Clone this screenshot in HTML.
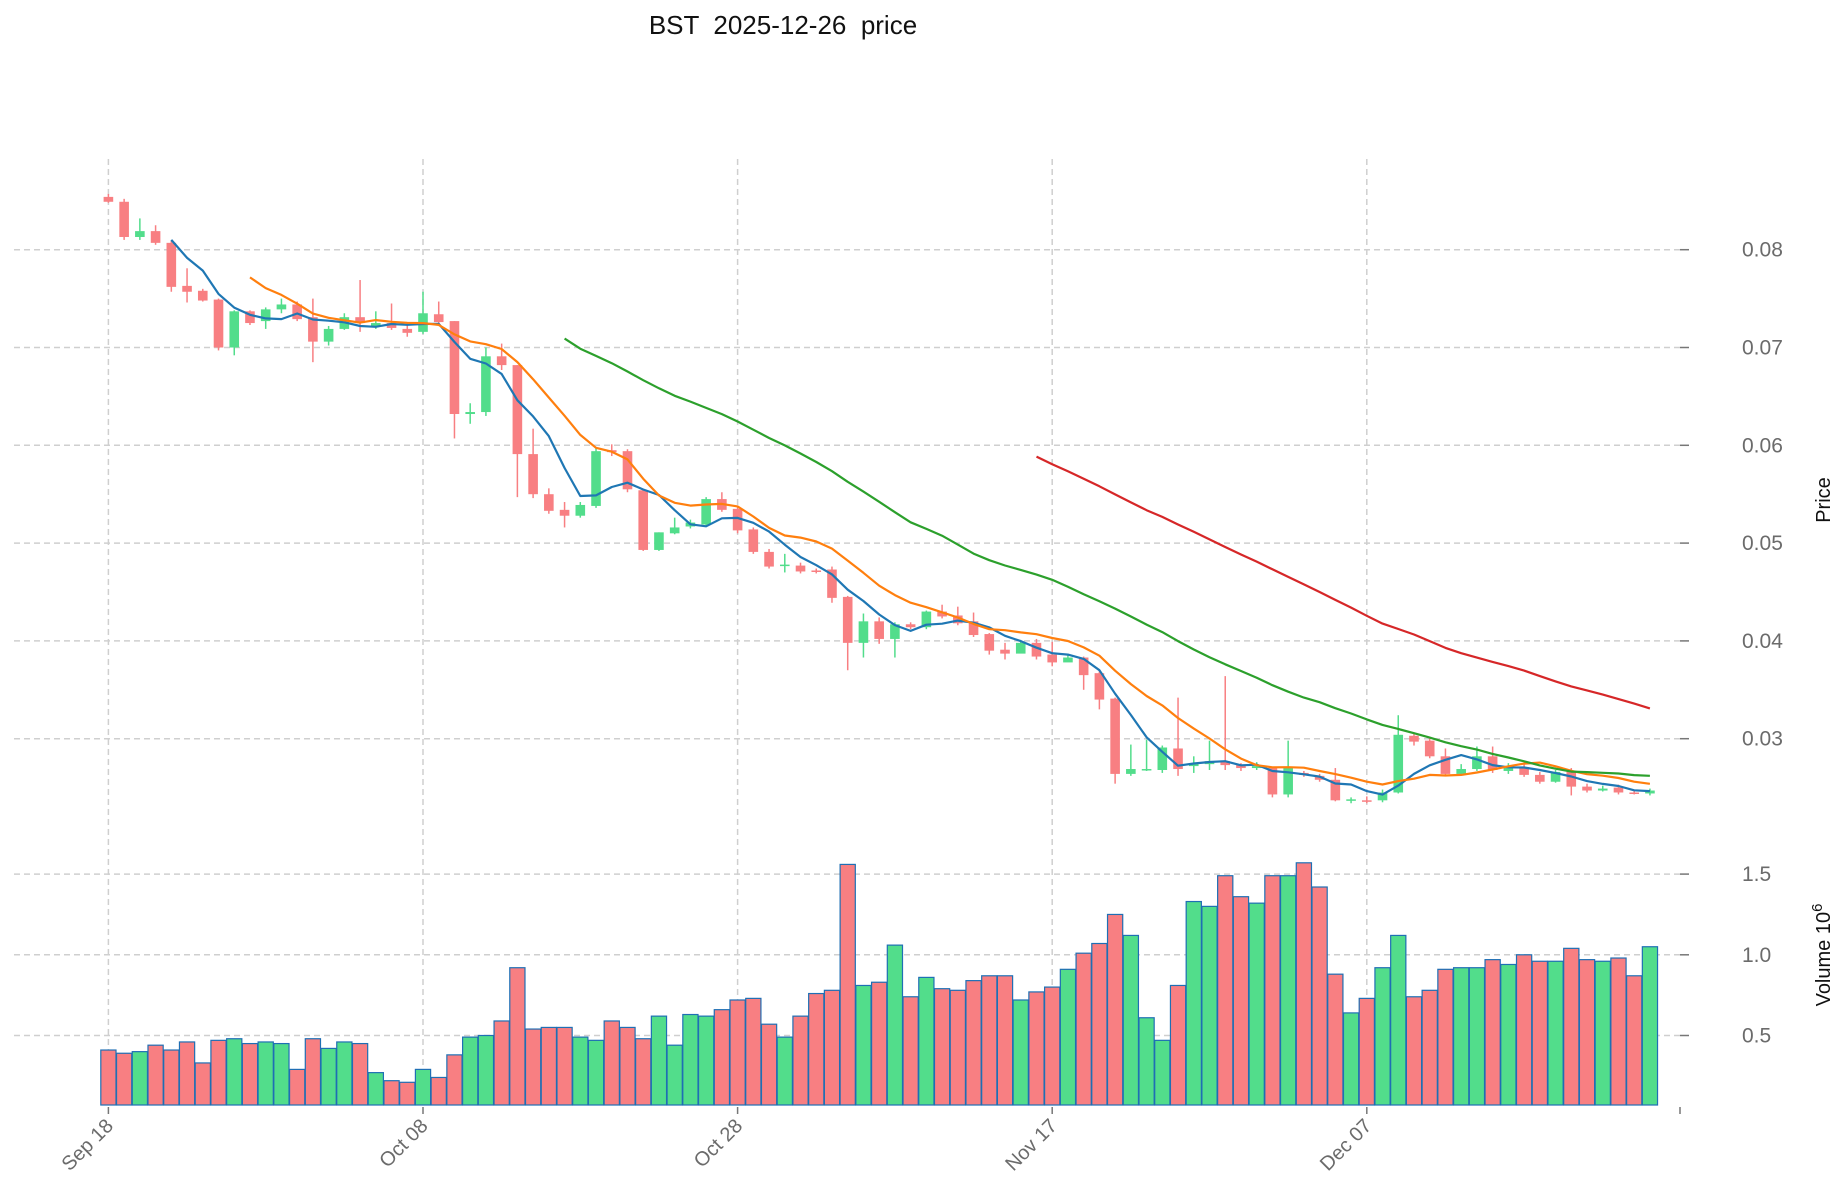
<!DOCTYPE html>
<html><head><meta charset="utf-8">
<style>
body{margin:0;background:#fff;}
svg{display:block;font-family:"Liberation Sans","DejaVu Sans",sans-serif;}
</style></head>
<body>
<svg id="chart" width="1847" height="1202" viewBox="0 0 1847 1202" xmlns="http://www.w3.org/2000/svg">
<rect width="1847" height="1202" fill="#fff"/>
<text x="783" y="34" font-size="26" text-anchor="middle" fill="#111" xml:space="preserve">BST  2025-12-26  price</text>
<g id="grid"></g>
<g id="vol"></g>
<g id="candles"></g>
<g id="mas"></g>
<g id="axes"></g>
<text transform="translate(1830,500) rotate(-90)" font-size="20" text-anchor="middle" fill="#111">Price</text>
<text transform="translate(1830,955) rotate(-90)" font-size="20" text-anchor="middle" fill="#111">Volume  10<tspan dy="-8" font-size="15">6</tspan></text>
</svg>
<script>
const dateLabels = ["Sep 18","Oct 08","Oct 28","Nov 17","Dec 07"];
const dateLabelIndex = [0,20,40,60,80];
const priceTicks = [0.03,0.04,0.05,0.06,0.07,0.08];
const volumeTicks = [0.5,1.0,1.5];
const opens = [.0854,.0849,.0813,.0819,.0807,.0763,.0758,.0749,.0700,.0737,.0727,.0739,.0744,.0731,.0706,.0719,.0731,.0722,.0725,.0719,.0716,.0734,.0727,.0632,.0634,.0691,.0682,.0591,.0550,.0534,.0528,.0538,.0595,.0594,.0554,.0493,.0510,.0517,.0519,.0545,.0535,.0514,.0491,.0477,.0477,.0472,.0473,.0445,.0398,.0420,.0402,.0417,.0414,.0430,.0426,.0420,.0407,.0391,.0387,.0398,.0386,.0378,.0383,.0367,.0341,.0264,.0268,.0268,.0290,.0272,.0274,.0277,.0273,.0270,.0270,.0243,.0265,.0262,.0258,.0237,.0237,.0237,.0245,.0303,.0298,.0282,.0264,.0269,.0282,.0267,.0271,.0263,.0256,.0267,.0251,.0247,.0250,.0245,.0244];
const closes = [.0849,.0813,.0819,.0807,.0762,.0757,.0748,.0700,.0737,.0725,.0739,.0744,.0729,.0706,.0719,.0731,.0725,.0725,.0720,.0715,.0735,.0726,.0632,.0634,.0691,.0682,.0591,.0550,.0533,.0528,.0539,.0594,.0593,.0555,.0493,.0511,.0516,.0521,.0545,.0534,.0513,.0491,.0476,.0478,.0471,.0471,.0444,.0398,.0420,.0402,.0417,.0414,.0430,.0425,.0418,.0406,.0390,.0387,.0398,.0384,.0378,.0383,.0365,.0340,.0264,.0269,.0269,.0291,.0269,.0275,.0277,.0273,.0270,.0272,.0243,.0270,.0263,.0258,.0237,.0238,.0236,.0245,.0304,.0297,.0282,.0264,.0269,.0282,.0268,.0271,.0263,.0256,.0266,.0251,.0247,.0249,.0245,.0244,.0247];
const highs = [.0857,.0852,.0832,.0825,.0809,.0781,.0760,.0750,.0738,.0738,.0741,.0750,.0747,.0750,.0722,.0735,.0769,.0737,.0745,.0726,.0757,.0747,.0727,.0643,.0700,.0704,.0682,.0617,.0556,.0542,.0542,.0597,.0601,.0596,.0554,.0511,.0526,.0524,.0547,.0552,.0538,.0516,.0494,.0489,.0480,.0474,.0476,.0446,.0428,.0424,.0419,.0419,.0431,.0437,.0435,.0429,.0408,.0398,.0401,.0402,.0399,.0386,.0384,.0369,.0342,.0294,.0299,.0293,.0342,.0282,.0298,.0364,.0275,.0276,.0271,.0298,.0267,.0264,.0270,.0240,.0241,.0248,.0324,.0305,.0300,.0290,.0274,.0292,.0292,.0275,.0274,.0266,.0268,.0270,.0254,.0252,.0253,.0248,.0249];
const lows = [.0848,.0810,.0810,.0805,.0757,.0746,.0747,.0697,.0692,.0723,.0719,.0735,.0727,.0685,.0702,.0718,.0716,.0719,.0718,.0711,.0714,.0724,.0607,.0622,.0630,.0677,.0547,.0546,.0530,.0516,.0526,.0536,.0589,.0552,.0492,.0492,.0509,.0515,.0517,.0532,.0510,.0489,.0474,.0470,.0469,.0469,.0439,.0370,.0383,.0397,.0383,.0412,.0412,.0423,.0416,.0404,.0386,.0381,.0396,.0381,.0374,.0380,.0350,.0330,.0254,.0262,.0267,.0265,.0262,.0265,.0268,.0268,.0267,.0268,.0240,.0240,.0261,.0256,.0236,.0234,.0234,.0235,.0244,.0293,.0280,.0262,.0263,.0267,.0265,.0264,.0261,.0254,.0255,.0242,.0245,.0246,.0243,.0243,.0242];
const volumes = [0.41,0.39,0.40,0.44,0.41,0.46,0.33,0.47,0.48,0.45,0.46,0.45,0.29,0.48,0.42,0.46,0.45,0.27,0.22,0.21,0.29,0.24,0.38,0.49,0.50,0.59,0.92,0.54,0.55,0.55,0.49,0.47,0.59,0.55,0.48,0.62,0.44,0.63,0.62,0.66,0.72,0.73,0.57,0.49,0.62,0.76,0.78,1.56,0.81,0.83,1.06,0.74,0.86,0.79,0.78,0.84,0.87,0.87,0.72,0.77,0.80,0.91,1.01,1.07,1.25,1.12,0.61,0.47,0.81,1.33,1.30,1.49,1.36,1.32,1.49,1.49,1.57,1.42,0.88,0.64,0.73,0.92,1.12,0.74,0.78,0.91,0.92,0.92,0.97,0.94,1.00,0.96,0.96,1.04,0.97,0.96,0.98,0.87,1.05];
const maPeriods = [5,10,30,60];

const NS="http://www.w3.org/2000/svg";
const UP="#52dd8b", DOWN="#f87f82";
const maColors = ["#1f77b4","#ff7f0e","#2ca02c","#d62728"];
function X(i){return 108.4+15.73*i;}
function Y(p){return 249.7+(0.08-p)*9780;}
function VY(v){return 1035.5-(v-0.5)*161.4;}
const VBASE=1105;
function mk(tag,attrs,parent){const e=document.createElementNS(NS,tag);for(const k in attrs)e.setAttribute(k,attrs[k]);parent.appendChild(e);return e;}
const grid=document.getElementById('grid'),vol=document.getElementById('vol'),cg=document.getElementById('candles'),mg=document.getElementById('mas'),ax=document.getElementById('axes');
const dash={stroke:"#cfcfcf","stroke-width":1.5,"stroke-dasharray":"6,4"};

priceTicks.forEach(t=>{
  const l=mk('line',Object.assign({x1:14,x2:1680,y1:Y(t),y2:Y(t)},dash),grid);
  
  
  const tk=mk('line',{x1:1680,x2:1689,y1:Y(t),y2:Y(t),stroke:"#777","stroke-width":1.5},ax);
  
  
  const tx=mk('text',{x:1742,y:Y(t)+7,"font-size":21,fill:"#6b6b6b"},ax);
  tx.textContent=t.toFixed(2);
  
  
});
volumeTicks.forEach(t=>{
  const l=mk('line',Object.assign({x1:14,x2:1680,y1:VY(t),y2:VY(t)},dash),grid);
  
  
  const tk=mk('line',{x1:1680,x2:1689,y1:VY(t),y2:VY(t),stroke:"#777","stroke-width":1.5},ax);
  
  
  const tx=mk('text',{x:1742,y:VY(t)+7,"font-size":21,fill:"#6b6b6b"},ax);
  tx.textContent=t.toFixed(1);
  
  
});
dateLabelIndex.forEach((di,k)=>{
  const x=X(di);
  const l=mk('line',Object.assign({x1:x,x2:x,y1:159,y2:VBASE},dash),grid);
  
  
  const tk=mk('line',{x1:x,x2:x,y1:VBASE+2,y2:VBASE+9,stroke:"#777","stroke-width":1.5},ax);
  
  
  const tx=mk('text',{x:x+6,y:VBASE+22,"font-size":20,fill:"#6b6b6b","text-anchor":"end",transform:`rotate(-45 ${x+6} ${VBASE+22})`},ax);
  tx.textContent=dateLabels[k];
  
  
});
const endTick=mk('line',{x1:1680,x2:1680,y1:VBASE+2,y2:VBASE+9,stroke:"#777","stroke-width":1.5},ax);



for(let i=0;i<closes.length;i++){
  const up=closes[i]>=opens[i];
  const c=up?UP:DOWN;
  const x=X(i);
  const vt=VY(volumes[i]);
  const b=mk('rect',{x:x-7.6,y:vt,width:15.2,height:VBASE-vt,fill:c,stroke:"#1f6fb4","stroke-width":1.2},vol);
  
  
  const w=mk('line',{x1:x,x2:x,y1:Y(highs[i]),y2:Y(lows[i]),stroke:c,"stroke-width":1.5},cg);
  
  
  const top=Y(Math.max(opens[i],closes[i])),bot=Y(Math.min(opens[i],closes[i]));
  const r=mk('rect',{x:x-4.8,y:top,width:9.6,height:Math.max(bot-top,1.5),fill:c},cg);
  
  
}
maPeriods.forEach((p,k)=>{
  const pts=[];
  for(let i=p-1;i<closes.length;i++){
    let s=0;for(let j=i-p+1;j<=i;j++)s+=closes[j];
    pts.push(X(i).toFixed(1)+","+Y(s/p).toFixed(1));
  }
  const pl=mk('polyline',{points:pts.join(" "),fill:"none",stroke:maColors[k],"stroke-width":2.2,"stroke-linejoin":"round"},mg);
  
  
});
</script>
</body></html>
